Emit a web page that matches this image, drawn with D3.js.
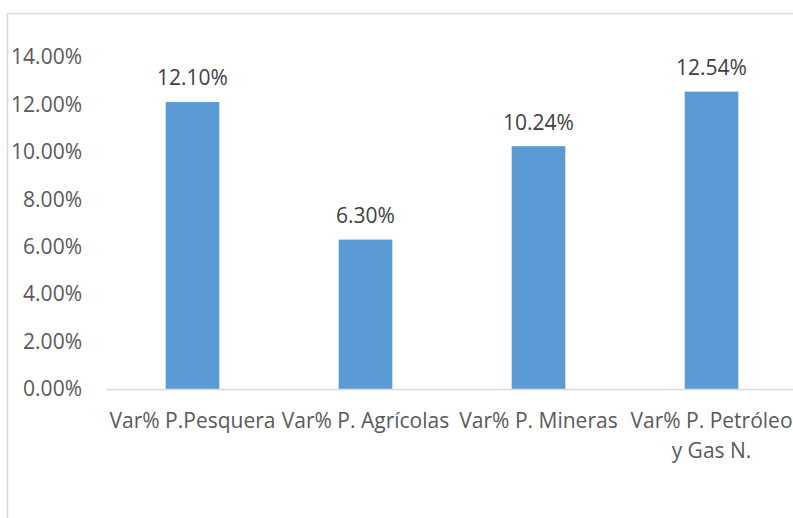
<!DOCTYPE html>
<html>
<head>
<meta charset="utf-8">
<script src="https://cdn.jsdelivr.net/npm/d3@7"></script>
<style>
  body { margin: 0; background: #fff; }
  text { font-family: "Open Sans", sans-serif; }
</style>
</head>
<body>
<svg id="chart" width="793" height="518"></svg>
<script>
var categories = ["Var% P.Pesquera", "Var% P. Agrícolas", "Var% P. Mineras", "Var% P. Petróleo y Gas N."];
var labelLines = [["Var% P.Pesquera"], ["Var% P. Agrícolas"], ["Var% P. Mineras"], ["Var% P. Petróleo", "y Gas N."]];
var values = [0.1210, 0.0630, 0.1024, 0.1254];
var yTicks = [0, 0.02, 0.04, 0.06, 0.08, 0.10, 0.12, 0.14];

var margin = { top: 57, left: 106, bottom: 389 },
    right = 798;

var svg = d3.select("svg#chart");

// chart area border (only top and left visible in the crop)
svg.append("path")
    .attr("d", "M7.5,518 L7.5,13.5 L793,13.5")
    .attr("fill", "none")
    .attr("stroke", "#d9d9d9")
    .attr("stroke-width", 1.5);

var x = d3.scaleBand()
    .domain(categories)
    .range([margin.left, right])
    .paddingInner(0.69)
    .paddingOuter(0.345);

var y = d3.scaleLinear()
    .domain([0, 0.14])
    .range([margin.bottom, margin.top]);

var fmt = d3.format(".2%");

// y tick labels
svg.append("g").selectAll("text")
    .data(yTicks)
    .enter().append("text")
    .attr("x", 82)
    .attr("y", d => y(d))
    .attr("dy", "0.35em")
    .attr("text-anchor", "end")
    .attr("fill", "#595959")
    .style("font-size", "21px")
    .text(d => fmt(d));

// bars
svg.append("g").selectAll("rect")
    .data(values)
    .enter().append("rect")
    .attr("x", (d, i) => x(categories[i]))
    .attr("y", d => y(d))
    .attr("width", x.bandwidth())
    .attr("height", d => y(0) - y(d))
    .attr("fill", "#5b9bd5");

// baseline
svg.append("line")
    .attr("x1", margin.left).attr("x2", 793)
    .attr("y1", y(0) + 0.5).attr("y2", y(0) + 0.5)
    .attr("stroke", "#d9d9d9")
    .attr("stroke-width", 1.5);

// data labels
svg.append("g").selectAll("text")
    .data(values)
    .enter().append("text")
    .attr("x", (d, i) => x(categories[i]) + x.bandwidth() / 2)
    .attr("y", d => y(d) - 24)
    .attr("dy", "0.35em")
    .attr("text-anchor", "middle")
    .attr("fill", "#404040")
    .style("font-size", "21px")
    .text(d => fmt(d));

// category labels
var cat = svg.append("g").selectAll("text")
    .data(categories)
    .enter().append("text")
    .attr("x", d => x(d) + x.bandwidth() / 2)
    .attr("y", 421)
    .attr("text-anchor", "middle")
    .attr("fill", "#595959")
    .style("font-size", "21px");

cat.each(function (d, i) {
    var t = d3.select(this);
    labelLines[i].forEach(function (line, j) {
        t.append("tspan")
            .attr("x", x(d) + x.bandwidth() / 2)
            .attr("dy", j === 0 ? "0.35em" : "30px")
            .text(line);
    });
});
</script>
</body>
</html>
